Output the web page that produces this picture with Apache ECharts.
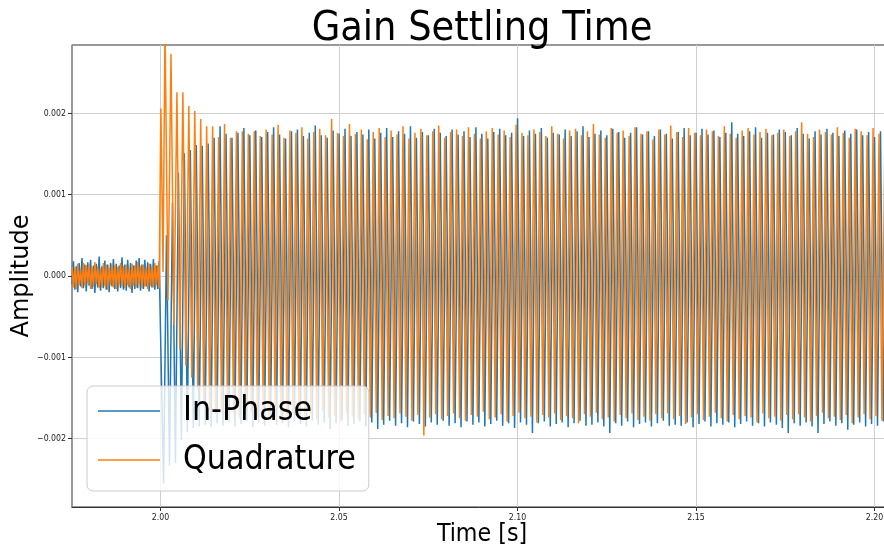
<!DOCTYPE html>
<html>
<head>
<meta charset="utf-8">
<script src="https://cdn.jsdelivr.net/npm/echarts@6/dist/echarts.min.js"></script>
<style>html,body{margin:0;padding:0;background:#fff;}#c{width:884px;height:546px;}</style>
</head>
<body>
<div id="c"></div>
<script>
// ---- data (amplitudes in units of 1e-4) ----
const xTicks = [2.00, 2.05, 2.10, 2.15, 2.20];
const yTicks = [-0.002, -0.001, 0.000, 0.001, 0.002];

// pre-step noise, sampled every 0.4 ms from 1.9752 s
const noiseStart = 1.9752, noiseStep = 0.0004;
const orangeNoise = [1.2,-1.4,1.0,-1.6,1.5,-1.1,0.8,-1.5,1.6,-1.2,1.3,-0.9,1.5,-1.6,1.1,-1.3,1.7,-1.0,1.2,-1.5,0.9,-1.4,1.6,-1.2,1.4,-1.7,1.0,-1.1,1.5,-1.4,1.3,-1.6,1.1,-1.0,1.6,-1.3,1.2,-1.5,1.4,-1.1,0.9,-1.6,1.5,-1.2,1.3,-1.4,1.7,-1.0,1.2,-1.5,1.4,-1.3,1.0,-1.6,1.5,-1.2,1.1,-1.4,1.6,-1.1,1.3,-1.5];
const blueNoise = [-1.0,1.8,-1.7,1.2,-2.0,1.6,-1.3,2.2,-1.5,1.4,-1.9,1.7,-1.2,2.0,-1.6,1.3,-2.1,1.5,-1.4,2.4,-1.8,1.2,-1.5,1.9,-1.7,1.4,-2.0,1.6,-1.3,2.1,-1.6,1.5,-1.9,1.3,-1.5,2.3,-1.7,1.4,-1.8,2.0,-1.4,1.6,-2.1,1.3,-1.6,1.9,-1.5,2.2,-1.8,1.4,-1.6,2.0,-1.3,1.7,-1.9,1.5,-1.4,2.1,-1.7,1.3,-1.6,1.8];

// step onset of quadrature trace
const orangeLeadTimes = [2.0001, 2.0007];
const orangeLead = [20.6, 0.5];

// per-cycle extrema of the 600 Hz oscillation, first quadrature peak at 2.00126 s
const cycleStart = 2.00126, cycleFreq = 600;
const orangePeaks = [31,27.3,22.6,22.6,20.9,20.3,19.3,18.4,18.4,17.1,18.7,17.0,17.8,17.8,17.5,17.8,
 17.2,18.0,17.4,18.6,17.0,17.9,17.6,18.3,16.9,17.7,18.1,17.3,19.3,17.6,17.2,18.7,
 17.5,18.0,16.8,17.7,18.2,17.1,17.9,17.4,18.4,16.9,17.6,18.1,17.3,17.8,18.5,17.0,
 17.7,18.0,17.2,18.3,17.5,16.9,17.8,18.2,17.4,17.9,17.1,18.6,17.6,17.3,18.0,17.7,
 17.2,18.4,17.5,16.9,17.9,18.1,17.3,17.8,18.7,17.4,17.0,18.2,17.6,17.9,17.2,18.3,
 17.5,17.8,16.8,18.0,17.4,18.5,17.7,17.1,18.2,17.6,17.3,18.0,17.8,17.2,18.4,17.5,
 17.0,17.9,18.2,17.4,17.7,18.1,17.3,17.6,18.0,17.2,17.8,18.9,17.5,17.1,18.0,17.7,
 17.4,18.3,17.6,17.0,18.1,17.8,17.3,18.2,17.5,17.9,17.6];
const orangeTroughs = [-3,-6,-9,-11,-12.5,-14,-15.5,-16.5,-17.0,-16.8,-17.3,-16.9,-17.5,-17.1,-16.7,-17.4,
 -17.0,-17.6,-16.8,-17.2,-17.8,-16.9,-17.3,-17.5,-17.0,-17.7,-16.6,-17.4,-17.2,-17.9,-16.9,-17.3,
 -17.6,-17.0,-17.4,-16.8,-17.7,-17.2,-17.5,-16.9,-17.3,-17.8,-17.1,-19.6,-17.4,-17.0,-17.6,-17.2,
 -16.9,-17.5,-17.8,-17.1,-17.3,-16.7,-17.6,-17.4,-17.0,-17.9,-17.2,-16.8,-17.5,-17.3,-18.0,-17.1,
 -17.4,-16.9,-17.7,-17.2,-17.5,-18.1,-17.0,-17.3,-16.8,-17.6,-17.4,-17.9,-17.1,-17.5,-16.9,-17.7,
 -17.3,-17.8,-17.0,-17.5,-16.9,-17.6,-17.2,-18.2,-17.4,-17.0,-17.7,-17.3,-16.8,-17.5,-17.9,-17.1,
 -17.6,-17.2,-17.4,-18.0,-16.9,-17.5,-17.3,-17.8,-17.1,-17.6,-17.0,-17.4,-17.9,-17.2,-16.8,-17.5,
 -17.3,-17.7,-17.1,-18.1,-17.4,-17.0,-17.6,-17.2,-17.8,-17.3,-17.5];
const bluePeaks = [5,9,12.7,15.1,15.5,16.1,16.0,16.3,17.0,18.4,17.5,17.0,17.6,18.2,17.3,17.9,
 17.1,17.7,18.3,17.4,16.9,17.8,18.0,17.2,17.6,18.5,17.3,17.0,17.9,17.5,18.1,17.2,
 17.7,17.4,18.0,16.9,17.6,18.2,17.1,17.8,17.5,18.4,17.0,17.7,17.3,18.1,17.6,17.2,
 18.0,17.4,17.8,17.1,18.3,17.5,16.9,17.7,18.1,17.3,17.6,19.4,17.2,17.9,17.5,18.2,
 17.0,17.6,17.4,18.0,17.2,17.8,18.4,17.1,17.5,17.9,17.3,18.1,17.7,17.0,17.6,18.3,
 17.4,17.8,17.2,18.0,17.5,16.9,17.7,18.2,17.3,17.6,18.1,17.4,17.9,17.1,17.6,18.9,
 17.5,17.2,17.8,18.3,17.0,17.6,17.4,18.0,17.7,17.3,18.2,17.5,16.9,17.8,17.4,18.1,
 17.6,17.2,17.9,17.5,18.0,17.3,17.7,17.1,17.8,17.4,17.6];
const blueTroughs = [-25.5,-23.3,-23.0,-20.2,-19.2,-18.7,-18.5,-18.3,-18.6,-18.1,-18.4,-17.9,-18.5,-18.2,-17.8,-18.6,
 -18.0,-18.4,-17.7,-18.3,-18.1,-18.6,-17.9,-18.2,-18.5,-17.8,-18.3,-18.0,-18.8,-18.1,-17.7,-18.4,
 -18.2,-17.9,-18.5,-18.0,-18.8,-18.3,-17.8,-18.4,-18.1,-18.6,-17.9,-18.2,-18.5,-18.0,-18.3,-17.8,
 -18.4,-18.1,-18.6,-17.9,-18.3,-18.0,-18.5,-18.2,-17.8,-18.4,-18.1,-18.7,-18.0,-18.3,-19.3,-18.1,
 -17.9,-18.5,-18.2,-18.0,-18.6,-18.1,-17.8,-18.4,-18.3,-18.0,-18.5,-19.3,-18.1,-18.4,-17.9,-18.6,
 -18.2,-18.0,-18.5,-18.1,-17.8,-18.4,-18.3,-18.4,-18.0,-18.6,-18.2,-17.9,-18.5,-18.1,-18.3,-18.0,
 -18.6,-18.2,-17.9,-18.4,-18.1,-18.5,-18.0,-18.3,-18.7,-19.3,-18.1,-18.4,-18.0,-18.5,-19.3,-18.2,
 -17.9,-18.4,-18.1,-18.9,-18.3,-18.0,-18.5,-18.2,-18.4,-17.9,-18.3];

// ---- build series ----
const U = 1e-4, P = 1 / cycleFreq;
function noisePts(arr) { return arr.map((v, i) => [noiseStart + i * noiseStep, v * U]); }
const orangeData = noisePts(orangeNoise);
orangeLead.forEach((v, i) => orangeData.push([orangeLeadTimes[i], v * U]));
orangePeaks.forEach((v, k) => {
  const t = cycleStart + k * P;
  orangeData.push([t, v * U]);
  if (k < orangeTroughs.length) orangeData.push([t + P / 2, orangeTroughs[k] * U]);
});
const blueData = noisePts(blueNoise);
blueTroughs.forEach((v, k) => {
  const t = cycleStart + k * P;
  blueData.push([t - P / 4, v * U]);
  if (k < bluePeaks.length) blueData.push([t + P / 4, bluePeaks[k] * U]);
});

const COND = "'DejaVu Sans Condensed', 'Liberation Sans Narrow', 'DejaVu Sans', sans-serif";
const chart = echarts.init(document.getElementById('c'), null, { renderer: 'canvas' });
chart.setOption({
  animation: false,
  backgroundColor: '#fff',
  title: {
    text: 'Gain Settling Time', left: 482, top: 9, padding: 0, textAlign: 'center',
    textStyle: { fontFamily: COND, fontSize: 41, fontWeight: 'normal', color: '#000' }
  },
  graphic: [
    { type: 'text', x: 22, y: 276, rotation: Math.PI / 2,
      style: { text: 'Amplitude', font: "24px 'DejaVu Sans', sans-serif", fill: '#000', align: 'center', verticalAlign: 'middle' } },
    { type: 'text', x: 482, y: 535,
      style: { text: 'Time [s]', font: "24.7px " + COND, fill: '#000', align: 'center', verticalAlign: 'middle' } }
  ],
  grid: { left: 72, top: 45, width: 820, height: 462, outerBoundsMode: 'none', containLabel: false,
    show: true, borderColor: '#333', borderWidth: 1, backgroundColor: 'transparent' },
  legend: {
    left: 87, top: 386, orient: 'vertical',
    backgroundColor: 'rgba(255,255,255,0.8)', borderColor: '#cccccc', borderWidth: 1, borderRadius: 6,
    padding: [5, 13, 11, 11], itemWidth: 62, itemHeight: 1.6, itemGap: 9, icon: 'rect',
    textStyle: { fontFamily: COND, fontSize: 33.6, color: '#000', lineHeight: 40, padding: [0, 0, 0, 18] },
    data: [{ name: 'In-Phase', icon: 'rect', itemStyle: { color: '#1f77b4' } },
           { name: 'Quadrature', icon: 'rect', itemStyle: { color: '#ff7f0e' } }]
  },
  xAxis: {
    type: 'value', min: 1.9752, max: 2.2049,
    axisLine: { show: true, onZero: false, lineStyle: { color: '#333', width: 1 } },
    axisTick: { show: true, customValues: xTicks, length: 4, lineStyle: { color: '#333' } },
    axisLabel: { customValues: xTicks, margin: 6, fontFamily: COND, fontSize: 8.7, color: '#222', formatter: v => v.toFixed(2) },
    splitLine: { show: true, lineStyle: { color: '#cfcfcf', width: 1 } }
  },
  yAxis: {
    type: 'value', min: -0.00284, max: 0.00284,
    axisLine: { show: true, onZero: false, lineStyle: { color: '#999', width: 1.5 } },
    axisTick: { show: true, customValues: yTicks, length: 4, lineStyle: { color: '#333' } },
    axisLabel: { customValues: yTicks, margin: 6, fontFamily: COND, fontSize: 8.7, color: '#222',
      formatter: v => v.toFixed(3).replace('-', '\u2212') },
    splitLine: { show: true, lineStyle: { color: '#cfcfcf', width: 1 } }
  },
  series: [
    { name: 'In-Phase', type: 'line', data: blueData, symbol: 'none', showSymbol: false, clip: true,
      lineStyle: { color: '#1f77b4', width: 1.5 }, itemStyle: { color: '#1f77b4' } },
    { name: 'Quadrature', type: 'line', data: orangeData, symbol: 'none', showSymbol: false, clip: true,
      lineStyle: { color: '#ff7f0e', width: 1.5 }, itemStyle: { color: '#ff7f0e' } }
  ]
});
</script>
</body>
</html>
